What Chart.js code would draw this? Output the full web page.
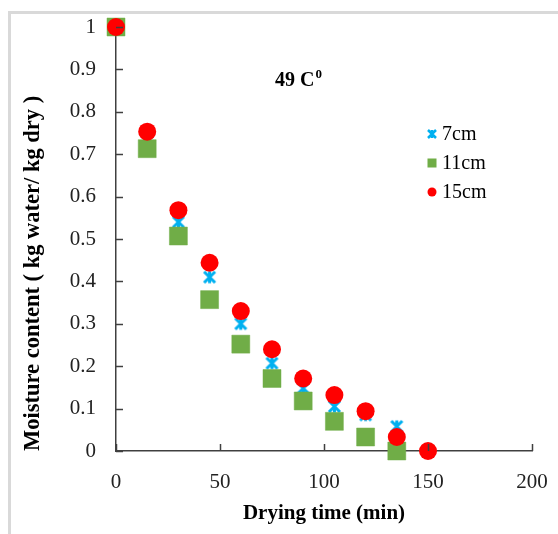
<!DOCTYPE html>
<html><head><meta charset="utf-8">
<script src="https://cdn.jsdelivr.net/npm/chart.js@4.4.1/dist/chart.umd.min.js"></script>
<style>html,body{margin:0;padding:0;background:#fff}#wrap{width:558px;height:534px;position:relative}</style>
</head><body><div id="wrap"><canvas id="c" width="558" height="534"></canvas></div>
<script>
// ---- data ----
const timeMin = [0, 15, 30, 45, 60, 75, 90, 105, 120, 135, 150];
const seriesLabels = ['7cm', '11cm', '15cm'];
const moisture7cm  = [1.0, 0.73, 0.54, 0.41, 0.30, 0.207, 0.148, 0.105, 0.085, 0.058, 0.0];
const moisture11cm = [1.0, 0.713, 0.507, 0.357, 0.252, 0.171, 0.118, 0.070, 0.033, 0.0];
const moisture15cm = [1.0, 0.753, 0.568, 0.444, 0.33, 0.24, 0.171, 0.132, 0.094, 0.033, 0.0];
const xTickValues = [0, 50, 100, 150, 200];
const yTickValues = [0, 0.1, 0.2, 0.3, 0.4, 0.5, 0.6, 0.7, 0.8, 0.9, 1];
const xTitle = 'Drying time (min)';
const yTitle = 'Moisture content ( kg water/ kg dry )';
const annotationMain = '49 C';
const annotationSup = '0';

const SERIF = '"Liberation Serif", "Times New Roman", serif';
const colors = ['#00B0F0', '#70AD47', '#FF0000'];

function starCanvas(size, lw, color) {
  const c = document.createElement('canvas');
  c.width = size; c.height = size;
  const g = c.getContext('2d');
  g.strokeStyle = color; g.lineWidth = lw; g.lineCap = 'butt';
  const m = lw / 2 + 0.5, s = size - m;
  g.beginPath();
  g.moveTo(m, m); g.lineTo(s, s);
  g.moveTo(s, m); g.lineTo(m, s);
  g.moveTo(size / 2, m - 0.5); g.lineTo(size / 2, s + 0.5);
  g.stroke();
  return c;
}
const starBig = starCanvas(15, 3, colors[0]);

const toXY = (ys) => ys.map((y, i) => ({x: timeMin[i], y}));
const fmt = (v) => String(+Number(v).toFixed(2));

const tickPlugin = {
  id: 'inTicks',
  afterDraw(chart) {
    const ctx = chart.ctx, xs = chart.scales.x, ys = chart.scales.y, a = chart.chartArea;
    ctx.save();
    ctx.strokeStyle = '#404040'; ctx.lineWidth = 1.5;
    ctx.beginPath();
    yTickValues.forEach(v => { const p = Math.round(ys.getPixelForValue(v)) + 0.5; ctx.moveTo(a.left, p); ctx.lineTo(a.left + 7, p); });
    xTickValues.forEach(v => { const p = Math.round(xs.getPixelForValue(v)) + 0.5; ctx.moveTo(p, a.bottom); ctx.lineTo(p, a.bottom - 7); });
    ctx.stroke();
    ctx.restore();
  }
};

const decoPlugin = {
  id: 'deco',
  beforeDraw(chart) {
    const ctx = chart.ctx;
    ctx.save();
    ctx.fillStyle = '#fff';
    ctx.fillRect(0, 0, chart.width, chart.height);
    ctx.fillStyle = '#d9d9d9';
    ctx.fillRect(8, 11, chart.width - 8, 3);
    ctx.fillRect(8, 11, 3, chart.height - 11);
    ctx.restore();
  },
  afterDraw(chart) {
    const ctx = chart.ctx;
    ctx.save();
    // annotation
    ctx.fillStyle = '#000';
    ctx.textBaseline = 'alphabetic';
    ctx.textAlign = 'left';
    ctx.font = 'bold 20px ' + SERIF;
    ctx.fillText(annotationMain, 275, 86);
    const w = ctx.measureText(annotationMain).width;
    ctx.font = 'bold 13px ' + SERIF;
    ctx.fillText(annotationSup, 275 + w + 1, 78);
    // legend
    const lx = 432, ly = [134, 163, 192];
    ctx.font = '20px ' + SERIF;
    ctx.textBaseline = 'middle';
    chart.data.datasets.forEach((ds, i) => {
      const y = ly[i];
      if (i === 0) {
        ctx.strokeStyle = ds.borderColor; ctx.lineWidth = 2.5;
        ctx.beginPath();
        ctx.moveTo(lx - 4, y - 4); ctx.lineTo(lx + 4, y + 4);
        ctx.moveTo(lx + 4, y - 4); ctx.lineTo(lx - 4, y + 4);
        ctx.moveTo(lx, y - 4); ctx.lineTo(lx, y + 4);
        ctx.stroke();
      } else if (i === 1) {
        ctx.fillStyle = ds.backgroundColor;
        ctx.fillRect(lx - 4.5, y - 4.5, 9, 9);
      } else {
        ctx.fillStyle = ds.backgroundColor;
        ctx.beginPath(); ctx.arc(lx, y, 4.5, 0, Math.PI * 2); ctx.fill();
      }
      ctx.fillStyle = '#000';
      ctx.fillText(ds.label, lx + 10, y + 1);
    });
    ctx.restore();
  }
};

const zeroPad = (s) => { s.paddingLeft = 0; s.paddingRight = 0; s.paddingTop = 0; s.paddingBottom = 0; };

new Chart(document.getElementById('c'), {
  type: 'scatter',
  data: {
    datasets: [
      { label: seriesLabels[0], data: toXY(moisture7cm), pointStyle: starBig, backgroundColor: colors[0], borderColor: colors[0], pointRadius: 7, order: 2, clip: false },
      { label: seriesLabels[1], data: toXY(moisture11cm), pointStyle: 'rect', backgroundColor: colors[1], borderColor: 'rgba(112,173,71,0.5)', borderWidth: 1, pointRadius: 12.7, order: 1, clip: false },
      { label: seriesLabels[2], data: toXY(moisture15cm), pointStyle: 'circle', backgroundColor: colors[2], borderColor: colors[2], borderWidth: 0, pointRadius: 9, order: 0, clip: false }
    ]
  },
  options: {
    responsive: false,
    animation: false,
    events: [],
    layout: { padding: { left: 0, top: 27, right: 26, bottom: 0 } },
    plugins: { legend: { display: false }, tooltip: { enabled: false } },
    scales: {
      x: {
        type: 'linear', min: 0, max: 200,
        afterBuildTicks: (s) => { s.ticks = xTickValues.map(v => ({value: v})); },
        ticks: { font: { family: SERIF, size: 21 }, color: '#222', padding: 19, maxRotation: 0, callback: fmt },
        grid: { drawOnChartArea: false, drawTicks: false },
        border: { color: '#404040', width: 1.5 },
        title: { display: true, text: xTitle, font: { family: SERIF, size: 21, weight: 'bold' }, color: '#000', padding: { top: 0, bottom: 8 } },
        afterFit: (s) => { s.height = 83; zeroPad(s); }
      },
      y: {
        type: 'linear', min: 0, max: 1,
        afterBuildTicks: (s) => { s.ticks = yTickValues.map(v => ({value: v})); },
        ticks: { font: { family: SERIF, size: 21 }, color: '#222', padding: 20, callback: fmt },
        grid: { drawOnChartArea: false, drawTicks: false },
        border: { color: '#404040', width: 1.5 },
        title: { display: true, text: yTitle, align: 'start', font: { family: SERIF, size: 22.5, weight: 'bold' }, color: '#000', padding: { top: 20, bottom: 0 } },
        afterFit: (s) => { s.width = 116; zeroPad(s); }
      }
    }
  },
  plugins: [decoPlugin, tickPlugin]
});
</script>
</body></html>
